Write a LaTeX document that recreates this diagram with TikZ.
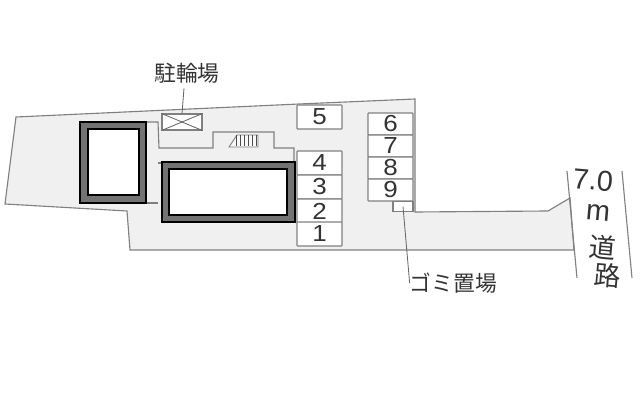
\documentclass[tikz,border=0pt]{standalone}
\usepackage{fontspec}
\newfontfamily\cjk{Noto Sans CJK JP}
\newfontfamily\digits[FakeStretch=1.12]{Liberation Sans}
\setmainfont{Liberation Sans}
\colorlet{gax}{black!50}
\colorlet{sitex}{black!6}
\colorlet{wallx}{black!55}
\colorlet{inkx}{black!80}
\tikzset{
    outline/.style={gax,line width=0.8pt},
    stall/.style={draw=gax,fill=white,line width=0.8pt,rounded corners=0.4pt,inner sep=0pt,minimum width=1.125cm,text=inkx,font=\digits\fontsize{16.5}{16.5}\selectfont},
    wallout/.style={draw=black,fill=wallx,line width=1.7pt},
    wallin/.style={draw=black,fill=white,line width=1.9pt},
    leader/.style={black!60,line width=0.6pt},
    label/.style={inner sep=0pt,text=inkx,font=\cjk\fontsize{15.5}{15.5}\selectfont},
    roadtxt/.style={inner sep=0pt,text=inkx,rotate=-5,font=\fontsize{20.5}{20.5}\selectfont},
    roadkanji/.style={roadtxt,font=\cjk\fontsize{19}{19}\selectfont}
}
\begin{document}
\begin{tikzpicture}[x=0.025cm,y=-0.025cm]
    \useasboundingbox (0,0) rectangle (640,400);
    % site
    \draw [outline,fill=sitex] (16,117) -- (299,104) -- (415,99) -- (415,212)
        -- (548,211) -- (570,198) -- (574,250) -- (130,250) -- (127,211)
        -- (5,204) -- cycle;
    % inner lines
    \draw [outline] (147,122) -- (158,122) -- (159,148) -- (213,148) -- (213,132)
        -- (274,132) -- (274,148) -- (294,148) -- (294,162);
    \draw [outline] (146,203) -- (158,203);
    \draw [outline] (158,163) -- (162,163);
    % buildings
    \draw [wallout] (80,122) rectangle (146,203);
    \draw [wallin] (88,129) rectangle (139,195);
    \draw [wallout] (162,162) rectangle (295,222);
    \draw [wallin] (169,169) rectangle (287,215);
    % stairs
    \draw [outline,line width=0.6pt,fill=white!60!sitex] (229,147) -- (237,135) -- (258,135) -- (258,147) -- cycle;
    \foreach \x in {236,240,...,256} {
        \draw [black!70,line width=0.5pt] (\x,135.5) -- (\x,146.5);
    }
    % bicycles
    \node [draw=gax,fill=white,line width=0.8pt,inner sep=0pt,minimum width=1cm,minimum height=0.4cm] (bikes) at (182,122) {};
    \draw [leader] (bikes.north west) -- (bikes.south east);
    \draw [leader] (bikes.south west) -- (bikes.north east);
    \node [label] (bikelabel) at (187,73) {駐輪場};
    \draw [leader] (bikelabel.south) ++(-3,5) coordinate (biketop) -- (bikes.north);
    % parking
    \node [stall,minimum height=0.6cm] (p5) at (319.5,117) {5};
    \foreach \n/\y in {4/163,3/187,2/211,1/234} {
        \node [stall,minimum height=0.6cm] (p\n) at (319.5,\y) {\n};
    }
    \foreach \n/\y in {6/124,7/146,8/168,9/190} {
        \node [stall,minimum height=0.55cm] (p\n) at (390.5,\y) {\n};
    }
    % rubbish
    \node [draw=gax,fill=white,line width=0.8pt,inner sep=0pt,minimum width=0.5cm,minimum height=0.27cm] (trash) at (403,206.5) {};
    \node [label] (trashlabel) at (453.5,283) {ゴミ置場};
    \draw [leader] (trash.center) -- (trashlabel.west);
    % road
    \coordinate (rla) at (567,171);
    \coordinate (rlb) at (577,278);
    \coordinate (rra) at (622,171);
    \coordinate (rrb) at (632,278);
    \draw [outline] (rla) -- (rlb);
    \draw [outline] (rra) -- (rrb);
    \node [roadtxt] (rw) at (593,180) {7.0};
    \node [roadtxt] (rm) at (598,213) {m};
    \node [roadkanji] (rd) at (603,247) {道};
    \node [roadkanji] (rr) at (608,276) {路};
\end{tikzpicture}
\end{document}
